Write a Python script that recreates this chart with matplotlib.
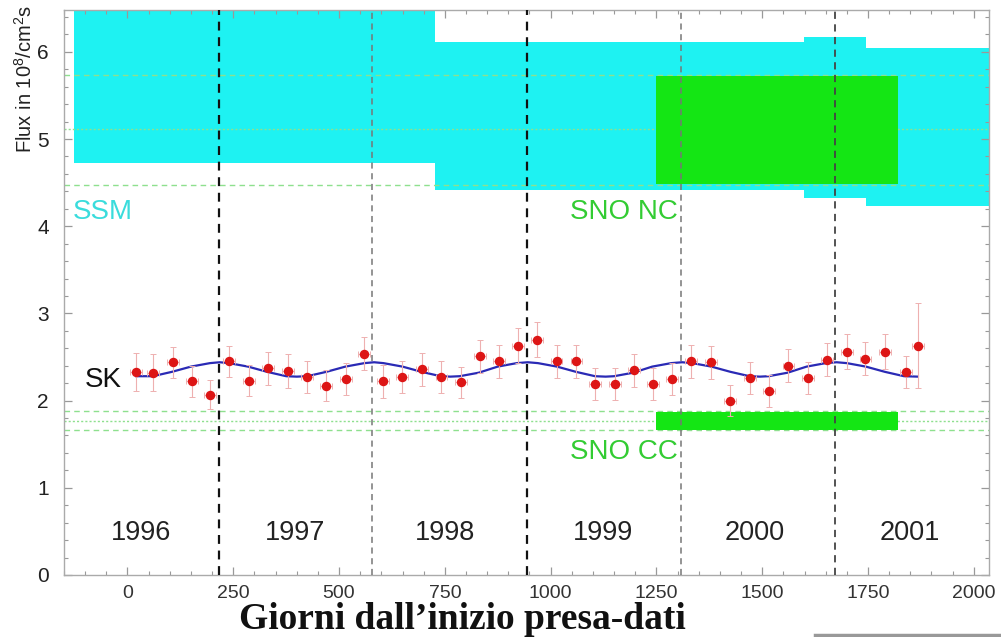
import matplotlib
matplotlib.use("Agg")
import matplotlib.pyplot as plt
from matplotlib.ticker import MultipleLocator
from matplotlib.lines import Line2D

plt.rcParams['font.family'] = ['Liberation Sans', 'DejaVu Sans']
plt.rcParams['mathtext.fontset'] = 'custom'
plt.rcParams['mathtext.rm'] = 'Liberation Sans'
plt.rcParams['mathtext.it'] = 'Liberation Sans'

# ---------------- data ----------------
sk_days = [21, 60, 108, 153, 196, 240, 287, 333, 379, 425, 470, 516, 559, 604,
           649, 696, 742, 788, 833, 878, 923, 967, 1014, 1061, 1105, 1152, 1198,
           1242, 1287, 1332, 1379, 1424, 1471, 1517, 1562, 1609, 1654, 1700,
           1744, 1790, 1840, 1868]
sk_flux = [2.33, 2.32, 2.44, 2.22, 2.07, 2.45, 2.23, 2.37, 2.34, 2.27, 2.17,
           2.25, 2.54, 2.22, 2.27, 2.36, 2.27, 2.21, 2.51, 2.45, 2.63, 2.70,
           2.45, 2.45, 2.19, 2.19, 2.35, 2.19, 2.25, 2.45, 2.44, 2.00, 2.26,
           2.11, 2.40, 2.26, 2.47, 2.56, 2.48, 2.56, 2.33, 2.63]
sk_err = [0.22, 0.21, 0.18, 0.18, 0.17, 0.18, 0.18, 0.19, 0.19, 0.18, 0.18,
          0.18, 0.19, 0.19, 0.18, 0.19, 0.18, 0.18, 0.19, 0.19, 0.20, 0.20,
          0.19, 0.19, 0.18, 0.18, 0.19, 0.18, 0.18, 0.19, 0.19, 0.18, 0.18,
          0.18, 0.19, 0.18, 0.19, 0.20, 0.19, 0.20, 0.18, 0.49]
sk_xerr = [14] * len(sk_days)

curve_days = [21, 60, 105, 150, 195, 218, 240, 285, 330, 375, 400, 425, 470,
              515, 560, 583, 605, 650, 695, 740, 763, 785, 830, 875, 920, 946,
              970, 1015, 1060, 1105, 1130, 1150, 1195, 1240, 1285, 1311, 1335,
              1380, 1425, 1470, 1495, 1515, 1560, 1605, 1650, 1676, 1700, 1745,
              1790, 1835, 1868]
curve_flux = [2.28, 2.28, 2.33, 2.39, 2.43, 2.44, 2.43, 2.39, 2.33, 2.28, 2.275,
              2.28, 2.33, 2.39, 2.43, 2.44, 2.43, 2.39, 2.33, 2.28, 2.275, 2.28,
              2.32, 2.39, 2.43, 2.44, 2.43, 2.39, 2.33, 2.28, 2.275, 2.28, 2.32,
              2.39, 2.43, 2.44, 2.43, 2.39, 2.33, 2.28, 2.275, 2.28, 2.32, 2.39,
              2.43, 2.44, 2.43, 2.39, 2.33, 2.28, 2.275]

ssm_start = [-127, 726, 1599, 1745]
ssm_end = [726, 1599, 1745, 2040]
ssm_low = [4.72, 4.41, 4.32, 4.23]
ssm_high = [6.70, 6.11, 6.17, 6.04]

sno_start = 1249
sno_end = 1822
nc_low, nc_high = 4.48, 5.72
cc_low, cc_high = 1.66, 1.87
nc_lines = [5.73, 5.11, 4.47]
cc_lines = [1.88, 1.77, 1.66]

year_bounds = [216, 578, 945, 1307, 1672]
year_labels = ['1996', '1997', '1998', '1999', '2000', '2001']
year_label_days = [33, 397, 751, 1124, 1483, 1849]

x_ticks = [0, 250, 500, 750, 1000, 1250, 1500, 1750, 2000]
y_ticks = [0, 1, 2, 3, 4, 5, 6]

# ---------------- figure ----------------
fig = plt.figure(figsize=(10.01, 6.37), dpi=100)
ax = fig.add_axes([64 / 1001, 1 - 575 / 637, 925 / 1001, 565 / 637])
ax.set_xlim(-150, 2036)
ax.set_ylim(0, 6.48)

cyan = '#1ef2f2'
green = '#14e614'

# SSM band
for s, e, lo, hi in zip(ssm_start, ssm_end, ssm_low, ssm_high):
    ax.bar(s, hi - lo, width=e - s, bottom=lo, align='edge', color=cyan,
           linewidth=0, zorder=1)

# SNO horizontal reference lines
ls_list = [(0, (4, 3)), (0, (1.5, 1.5)), (0, (4, 3))]
for yv, ls in zip(nc_lines, ls_list):
    ax.axhline(yv, color='#8ee08e', lw=1.0, ls=ls, zorder=2)
for yv, ls in zip(cc_lines, ls_list):
    ax.axhline(yv, color='#8ee08e', lw=1.0, ls=ls, zorder=2)

# SNO boxes
ax.bar(sno_start, nc_high - nc_low, width=sno_end - sno_start, bottom=nc_low,
       align='edge', color=green, linewidth=0, zorder=3)
ax.bar(sno_start, cc_high - cc_low, width=sno_end - sno_start, bottom=cc_low,
       align='edge', color=green, linewidth=0, zorder=3)

# Year boundaries
yb_colors = ['#111111', '#777777', '#111111', '#777777', '#444444']
yb_widths = [1.6, 1.1, 1.6, 1.1, 1.3]
for d, c, w in zip(year_bounds, yb_colors, yb_widths):
    ax.axvline(d, color=c, lw=w, ls=(0, (4, 3)), zorder=4)

# SK seasonal curve
ax.plot(curve_days, curve_flux, color='#2a2ab5', lw=1.6, zorder=5)

# SK data
ax.errorbar(sk_days, sk_flux, yerr=sk_err, xerr=sk_xerr, fmt='o',
            color='#dd1515', markersize=5.8, ecolor='#eeb0b0',
            elinewidth=0.8, capsize=2, capthick=0.7, zorder=6)

# Labels inside
ax.text(-129, 4.16, 'SSM', color='#3adcdc', fontsize=20, va='center', ha='left', zorder=7)
ax.text(1046, 4.16, 'SNO NC', color='#33cc33', fontsize=20, va='center', ha='left', zorder=7)
ax.text(1046, 1.41, 'SNO CC', color='#33cc33', fontsize=20, va='center', ha='left', zorder=7)
ax.text(-101, 2.24, 'SK', color='#111111', fontsize=20, va='center', ha='left', zorder=7)
for lbl, d in zip(year_labels, year_label_days):
    ax.text(d, 0.48, lbl, color='#222222', fontsize=19.5, ha='center', va='center', zorder=7)

# Axes styling
for sp in ax.spines.values():
    sp.set_color('#aaaaaa')
    sp.set_linewidth(1.0)
ax.set_xticks(x_ticks)
ax.set_yticks(y_ticks)
ax.xaxis.set_minor_locator(MultipleLocator(50))
ax.yaxis.set_minor_locator(MultipleLocator(0.2))
ax.tick_params(which='both', direction='in', top=True, right=True, color='#999999')
ax.tick_params(which='major', length=6, width=0.9)
ax.tick_params(which='minor', length=3, width=0.8)
ax.tick_params(axis='y', labelsize=15, labelcolor='#222222', pad=11)
ax.tick_params(axis='x', labelsize=14, labelcolor='#333333', pad=7)

fig.text(25 / 1001, 1 - 5 / 637, 'Flux in 10$^{8}$/cm$^{2}$s', rotation=90,
         fontsize=14.5, ha='center', va='top', color='#222222')

fig.text(462 / 1001, (637 - 629) / 637, 'Giorni dall\u2019inizio presa-dati',
         family=['Liberation Serif', 'DejaVu Serif'], fontweight='bold',
         fontsize=27, ha='center', va='baseline', color='#111111')

fig.add_artist(Line2D([815 / 1001, 1.0], [2 / 637, 2 / 637], color='#999999',
                      lw=2.5, transform=fig.transFigure))

fig.savefig('out.png', dpi=100)
